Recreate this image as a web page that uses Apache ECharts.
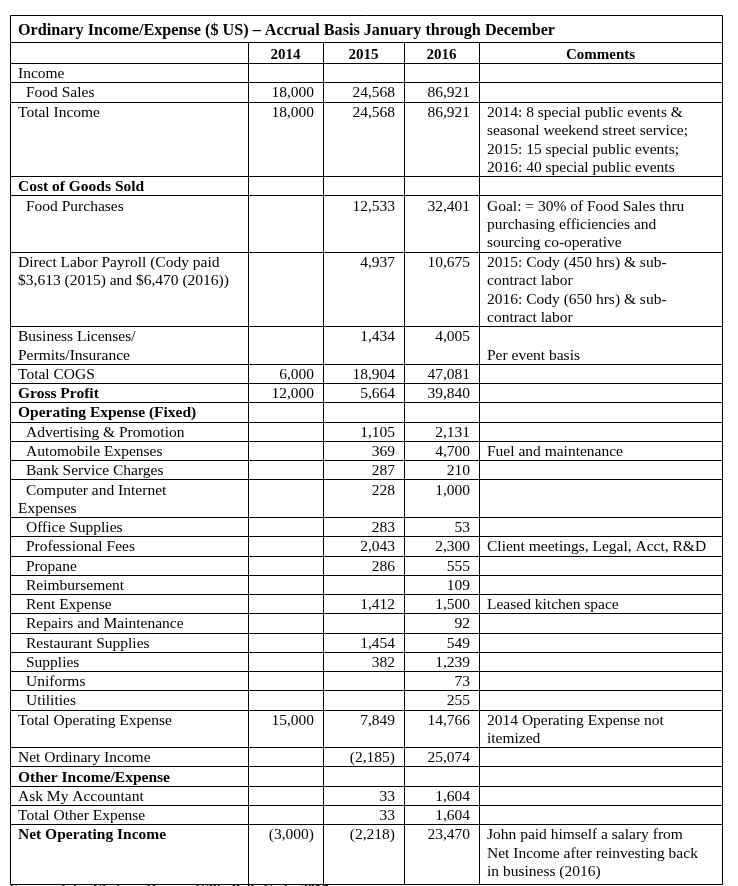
<!DOCTYPE html>
<html>
<head>
<meta charset="utf-8">
<script src="https://cdn.jsdelivr.net/npm/echarts@6/dist/echarts.min.js"></script>
<style>
  html, body { margin: 0; background: #fff; }
  #main { width: 738px; height: 886px; }
</style>
</head>
<body>
<div id="main"></div>
<script>
const title = 'Ordinary Income/Expense ($ US) – Accrual Basis January through December'
const years = ['2014', '2015', '2016']
const commentHead = 'Comments'
const source = 'Source: John Chrisco, Owner; Willy Bell; Cody, 2017'

const labels = [
  'Income', 'Food Sales', 'Total Income', 'Cost of Goods Sold', 'Food Purchases',
  'Direct Labor Payroll (Cody paid\n$3,613 (2015) and $6,470 (2016))',
  'Business Licenses/\nPermits/Insurance', 'Total COGS', 'Gross Profit',
  'Operating Expense (Fixed)', 'Advertising & Promotion', 'Automobile Expenses',
  'Bank Service Charges', 'Computer and Internet\nExpenses', 'Office Supplies',
  'Professional Fees', 'Propane', 'Reimbursement', 'Rent Expense',
  'Repairs and Maintenance', 'Restaurant Supplies', 'Supplies', 'Uniforms',
  'Utilities', 'Total Operating Expense', 'Net Ordinary Income',
  'Other Income/Expense', 'Ask My Accountant', 'Total Other Expense',
  'Net Operating Income'
]
const indented = [0, 1, 0, 0, 1, 0, 0, 0, 0, 0, 1, 1, 1, 1, 1, 1, 1, 1, 1, 1, 1, 1, 1, 1, 0, 0, 0, 0, 0, 0]
const boldRows = [0, 0, 0, 1, 0, 0, 0, 0, 1, 1, 0, 0, 0, 0, 0, 0, 0, 0, 0, 0, 0, 0, 0, 0, 0, 0, 1, 0, 0, 1]
const v2014 = [null, 18000, 18000, null, null, null, null, 6000, 12000, null, null, null, null, null, null,
  null, null, null, null, null, null, null, null, null, 15000, null, null, null, null, -3000]
const v2015 = [null, 24568, 24568, null, 12533, 4937, 1434, 18904, 5664, null, 1105, 369, 287, 228, 283,
  2043, 286, null, 1412, null, 1454, 382, null, null, 7849, -2185, null, 33, 33, -2218]
const v2016 = [null, 86921, 86921, null, 32401, 10675, 4005, 47081, 39840, null, 2131, 4700, 210, 1000, 53,
  2300, 555, 109, 1500, 92, 549, 1239, 73, 255, 14766, 25074, null, 1604, 1604, 23470]
const comments = [
  '', '', '2014: 8 special public events &\nseasonal weekend street service;\n2015: 15 special public events;\n2016: 40 special public events',
  '', 'Goal: = 30% of Food Sales thru\npurchasing efficiencies and\nsourcing co-operative',
  '2015: Cody (450 hrs) & sub-\ncontract labor\n2016: Cody (650 hrs) & sub-\ncontract labor',
  '\nPer event basis', '', '', '', '', 'Fuel and maintenance', '', '', '',
  'Client meetings, Legal, Acct, R&D', '', '', 'Leased kitchen space', '', '', '', '', '',
  '2014 Operating Expense not\nitemized', '', '', '', '',
  'John paid himself a salary from\nNet Income after reinvesting back\nin business (2016)'
]

// layout (axis units = pixels inside the grid)
const tblLeft = 10, tblTop = 15, tblRight = 722
const colEdges = [0, 238, 313, 394, 469, tblRight - tblLeft]
const titleH = 27, headH = 21
const lineH = 18.45, rowPad = 0.8, lastExtra = 4
const font = '"Liberation Serif", "DejaVu Serif", serif'
const fontSize = 15.5
const textShift = 1.5

const fmt = v => v == null ? '' : (v < 0 ? '(' + Math.abs(v).toLocaleString('en-US') + ')' : v.toLocaleString('en-US'))

// build cells
const cells = []
cells.push({ x0: 0, x1: colEdges[5], y0: 0, y1: titleH, lines: [title], align: 'left', bold: true, size: 16.2, shift: 2 })
let rowY = titleH
;['', ...years, commentHead].forEach((t, c) => {
  cells.push({ x0: colEdges[c], x1: colEdges[c + 1], y0: rowY, y1: rowY + headH, lines: [t], align: 'center', bold: true, size: 15, shift: 2.5 })
})
rowY += headH
labels.forEach((lab, r) => {
  const texts = [lab, fmt(v2014[r]), fmt(v2015[r]), fmt(v2016[r]), comments[r]]
  const n = Math.max(...texts.map(t => t.split('\n').length))
  const h = n * lineH + rowPad + (r === labels.length - 1 ? lastExtra : 0)
  texts.forEach((t, c) => {
    cells.push({
      x0: colEdges[c], x1: colEdges[c + 1], y0: rowY, y1: rowY + h,
      lines: t.split('\n'), align: c >= 1 && c <= 3 ? 'right' : 'left',
      bold: c === 0 && boldRows[r] === 1, indent: c === 0 && indented[r] === 1, multi: true
    })
  })
  rowY += h
})
const totalH = rowY

const chart = echarts.init(document.getElementById('main'), null, { renderer: 'canvas' })
chart.setOption({
  backgroundColor: '#fff',
  animation: false,
  grid: { left: tblLeft, top: tblTop, width: colEdges[5], height: totalH, show: false },
  xAxis: { type: 'value', min: 0, max: colEdges[5], show: false },
  yAxis: { type: 'value', min: 0, max: totalH, inverse: true, show: false },
  graphic: [{
    type: 'text', left: tblLeft, top: tblTop + totalH - 0.5,
    style: { text: source, font: 'bold 14px ' + font, fill: '#000' }
  }],
  series: [{
    type: 'custom',
    clip: false,
    data: cells.map(c => [c.x0, c.y0, c.x1, c.y1]),
    renderItem(params, api) {
      const cell = cells[params.dataIndex]
      const p0 = api.coord([api.value(0), api.value(1)])
      const p1 = api.coord([api.value(2), api.value(3)])
      const x0 = Math.round(p0[0]) + 0.5, y0 = Math.round(p0[1]) + 0.5
      const x1 = Math.round(p1[0]) + 0.5, y1 = Math.round(p1[1]) + 0.5
      const children = [{
        type: 'rect',
        shape: { x: x0, y: y0, width: x1 - x0, height: y1 - y0 },
        style: { fill: null, stroke: '#000', lineWidth: 1 }
      }]
      const size = cell.size || fontSize
      cell.lines.forEach((t, i) => {
        if (!t) return
        let tx, ty
        if (cell.align === 'center') tx = (p0[0] + p1[0]) / 2
        else if (cell.align === 'right') tx = p1[0] - 9
        else tx = p0[0] + 8 + (cell.indent && i === 0 ? 8 : 0)
        if (cell.multi) ty = p0[1] + rowPad / 2 + lineH * (i + 0.5) + textShift
        else ty = (p0[1] + p1[1]) / 2 + (cell.shift || 0)
        children.push({
          type: 'text',
          style: {
            text: t, x: tx, y: ty, align: cell.align, verticalAlign: 'middle',
            font: (cell.bold ? 'bold ' : '') + size + 'px ' + font, fill: '#000'
          }
        })
      })
      return { type: 'group', children }
    }
  }]
})
</script>
</body>
</html>
